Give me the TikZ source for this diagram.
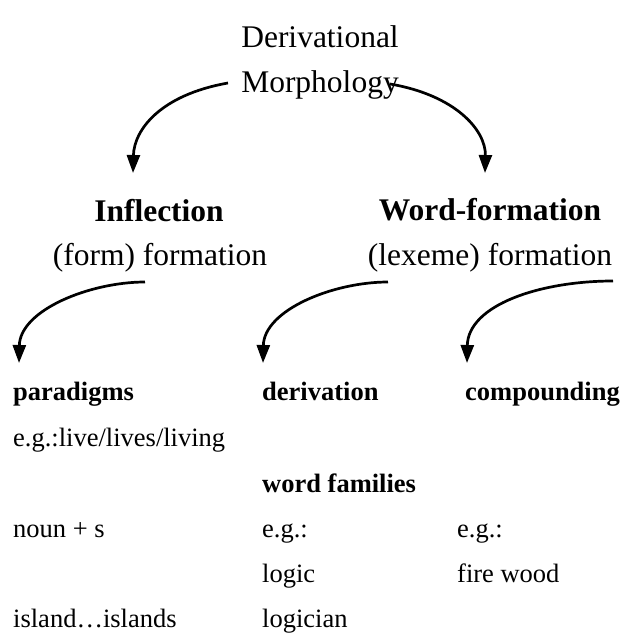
\documentclass[tikz,border=0pt]{standalone}
\usepackage{fontspec}
\setmainfont{Liberation Serif}
\usetikzlibrary{arrows.meta}
\begin{document}
\begin{tikzpicture}[x=1pt,y=-1pt,
 big/.style={font=\fontsize{31.5}{38}\selectfont, inner sep=0, anchor=base},
 bigb/.style={big, font=\fontsize{31.5}{38}\selectfont\bfseries},
 small/.style={font=\fontsize{26.5}{32}\selectfont, inner sep=0, anchor=base west},
 smallb/.style={small, font=\fontsize{26.5}{32}\selectfont\bfseries},
 conn/.style={line width=2.7pt, -{Triangle[width=13pt,length=18pt]}}]
\fill[white] (0,0) rectangle (630,633);
\useasboundingbox (0,0) rectangle (630,633);
% top
\node[big] (deriv) at (320,47) {Derivational};
\node[big] (morph) at (320,92) {Morphology};
\node[bigb] (infl) at (159,221) {Inflection};
\node[big] (formf) at (160,265) {(form) formation};
\node[bigb] (wf) at (490,220) {Word-formation};
\node[big] (lexf) at (490,265) {(lexeme) formation};
% bottom
\node[smallb] (parad) at (13,400) {paradigms};
\node[smallb] (derivn) at (262,400) {derivation};
\node[smallb] (comp) at (465,400) {compounding};
\node[small] (eg1) at (13,446) {e.g.:live/lives/living};
\node[smallb] (wfam) at (262,492) {word families};
\node[small] (noun) at (13,537) {noun + s};
\node[small] (eg2) at (262,537) {e.g.:};
\node[small] (eg3) at (457,537) {e.g.:};
\node[small] (logic) at (262,582) {logic};
\node[small] (fire) at (457,582) {fire wood};
\node[small] (island) at (13,627) {island…islands};
\node[small] (logician) at (262,627) {logician};
% connector ends
\coordinate (m1) at (228,83);
\coordinate (m2) at (390,84);
\coordinate (i1) at (133,173);
\coordinate (w1) at (485,173);
\coordinate (f1) at (145,282);
\coordinate (l1) at (388,282);
\coordinate (l2) at (613,281);
\coordinate (p1) at (19,363);
\coordinate (d1) at (263,363);
\coordinate (c1) at (467,363);
\draw[conn] (m1) .. controls (160,95) and (134,130) .. (i1);
\draw[conn] (m2) .. controls (455,95) and (486,130) .. (w1);
\draw[conn] (f1) .. controls (90,282) and (20,310) .. (p1);
\draw[conn] (l1) .. controls (333,282) and (264,310) .. (d1);
\draw[conn] (l2) .. controls (540,281) and (468,305) .. (c1);
\end{tikzpicture}
\end{document}
